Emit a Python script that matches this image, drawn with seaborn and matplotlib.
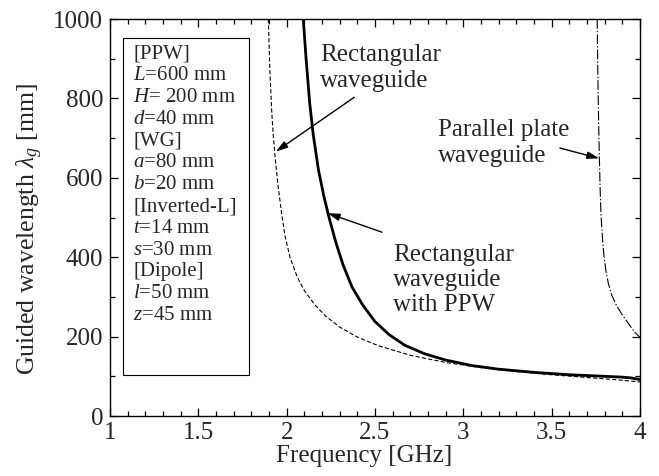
import numpy as np
import pandas as pd
import matplotlib
matplotlib.use("Agg")
import matplotlib.pyplot as plt
import seaborn as sns
from matplotlib.patches import Rectangle

# ---- data ----
rwg_freq = [1.896, 1.905, 1.915, 1.925, 1.935, 1.95, 1.97, 1.99, 2.02, 2.06, 2.10, 2.16,
            2.22, 2.30, 2.40, 2.52, 2.70, 2.90, 3.10, 3.30, 3.50, 3.70, 3.85, 4.00]
rwg_lam = [1000, 870, 770, 700, 650, 585, 515, 455, 398, 350, 316, 280,
           252, 224, 199, 177, 153, 135, 122, 112, 104, 97, 92, 86]

rppw_freq = [2.094, 2.11, 2.13, 2.15, 2.18, 2.21, 2.24, 2.28, 2.32, 2.37, 2.43, 2.50,
             2.58, 2.67, 2.78, 2.90, 3.05, 3.20, 3.40, 3.60, 3.80, 3.90, 3.95, 4.00]
rppw_lam = [1000, 900, 790, 710, 620, 555, 500, 435, 380, 325, 280, 238,
            205, 178, 157, 141, 127, 118, 110, 104, 100, 98, 96, 92]

ppw_freq = [3.758, 3.762, 3.766, 3.770, 3.775, 3.780, 3.788, 3.796, 3.808, 3.821,
            3.840, 3.868, 3.90, 3.94, 3.97, 4.00]
ppw_lam = [1000, 860, 750, 660, 570, 505, 450, 405, 365, 335,
           305, 278, 255, 230, 212, 198]

box_lines = ["[PPW]", r"$L$=600 mm", r"$H$= 200 mm", r"$d$=40 mm", "[WG]",
             r"$a$=80 mm", r"$b$=20 mm", "[Inverted-L]", r"$t$=14 mm", r"$s$=30 mm",
             "[Dipole]", r"$l$=50 mm", r"$z$=45 mm"]

label_rwg = "Rectangular\nwaveguide"
label_ppw = "Parallel plate\nwaveguide"
label_rppw = "Rectangular\nwaveguide\nwith PPW"

x_ticks = [1, 1.5, 2, 2.5, 3, 3.5, 4]
x_ticklabels = ["1", "1.5", "2", "2.5", "3", "3.5", "4"]
y_ticks = [0, 200, 400, 600, 800, 1000]

# ---- style ----
sns.set_theme(style="ticks")
plt.rcParams["font.family"] = ["Liberation Serif", "DejaVu Serif"]
plt.rcParams["mathtext.fontset"] = "custom"
plt.rcParams["mathtext.rm"] = "Liberation Serif"
plt.rcParams["mathtext.it"] = "Liberation Serif:italic"
plt.rcParams["mathtext.bf"] = "Liberation Serif:bold"
plt.rcParams["lines.scale_dashes"] = False

fig = plt.figure(figsize=(6.59, 4.76), dpi=100)
ax = fig.add_axes([0.167, 0.126, 0.971 - 0.167, 0.960 - 0.126])

df_rwg = pd.DataFrame({"f": rwg_freq, "lam": rwg_lam})
df_rppw = pd.DataFrame({"f": rppw_freq, "lam": rppw_lam})
df_ppw = pd.DataFrame({"f": ppw_freq, "lam": ppw_lam})

sns.lineplot(data=df_rwg, x="f", y="lam", ax=ax, color="black", lw=0.8,
             linestyle=(0, (3, 1.6)))
sns.lineplot(data=df_rppw, x="f", y="lam", ax=ax, color="black", lw=2.0)
sns.lineplot(data=df_ppw, x="f", y="lam", ax=ax, color="black", lw=0.8,
             linestyle=(0, (7, 1.5, 1, 1.5)))

ax.set_xlim(1, 4)
ax.set_ylim(0, 1000)
ax.set_xticks(x_ticks)
ax.set_xticklabels(x_ticklabels)
ax.set_yticks(y_ticks)
ax.xaxis.set_minor_locator(matplotlib.ticker.MultipleLocator(0.1))
ax.yaxis.set_minor_locator(matplotlib.ticker.MultipleLocator(100))
ax.tick_params(which="both", direction="in", top=True, right=True,
               labelsize=18, color="black", width=0.9)
ax.tick_params(which="major", length=6, pad=4)
ax.tick_params(which="minor", length=3.5)
ax.tick_params(axis="y", which="major", pad=5)
for sp in ax.spines.values():
    sp.set_linewidth(1.0)
    sp.set_color("black")

ax.set_xlabel("Frequency [GHz]", fontsize=18)
ax.set_ylabel(r"Guided wavelength $\lambda_g$ [mm]", fontsize=18.5)
ax.xaxis.set_label_coords(0.479, -0.072)
ax.yaxis.set_label_coords(-0.123, 0.47)

# parameter box
ax.add_patch(Rectangle((0.0245, 0.103), 0.2375, 0.849, transform=ax.transAxes,
                       fill=False, lw=0.8, edgecolor="black"))
ax.text(0.0434, 0.936, "\n".join(box_lines), transform=ax.transAxes,
        fontsize=15, va="top", ha="left", linespacing=1.2)

# annotation texts (baseline of the last line)
ax.text(2.189, 829, label_rwg, fontsize=18, ha="left", va="baseline", linespacing=1.22)
ax.text(2.858, 641, label_ppw, fontsize=18, ha="left", va="baseline", linespacing=1.22)
ax.text(2.604, 264, label_rppw, fontsize=18, ha="left", va="baseline", linespacing=1.18)

arrow = dict(arrowstyle="-|>,head_length=0.6,head_width=0.18", color="black",
             lw=1.0, shrinkA=0, shrinkB=0)
ax.annotate("", xy=(1.938, 666), xytext=(2.383, 803), arrowprops=arrow)
ax.annotate("", xy=(3.770, 649), xytext=(3.547, 675), arrowprops=arrow)
ax.annotate("", xy=(2.232, 511), xytext=(2.540, 463), arrowprops=arrow)

fig.savefig("out.png", dpi=100)
